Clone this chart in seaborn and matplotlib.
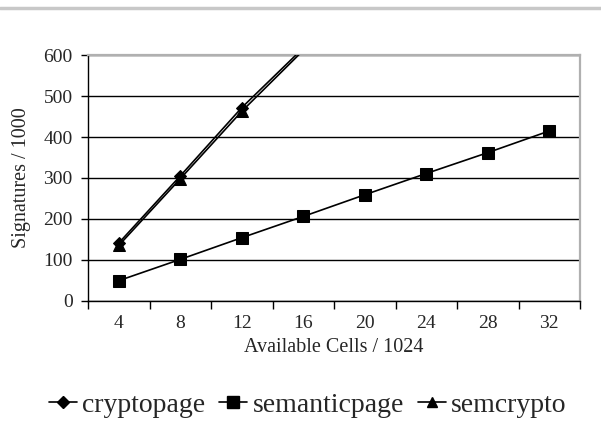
import numpy as np
import pandas as pd
import matplotlib
matplotlib.use('Agg')
import matplotlib.pyplot as plt
import seaborn as sns
from matplotlib.lines import Line2D

# Data
cells = [4, 8, 12, 16, 20, 24, 28, 32]
cryptopage_x = [4, 8, 12, 16]
cryptopage = [141, 305, 472, 618]
semanticpage = [49, 101, 154, 206, 259, 311, 362, 415]
semcrypto_x = [4, 8, 12, 16]
semcrypto = [135, 298, 463, 612]
y_ticks = [0, 100, 200, 300, 400, 500, 600]
Y_MAX = 600

df = pd.concat([
    pd.DataFrame({'cells': cryptopage_x, 'sig': cryptopage, 'series': 'cryptopage'}),
    pd.DataFrame({'cells': cells, 'sig': semanticpage, 'series': 'semanticpage'}),
    pd.DataFrame({'cells': semcrypto_x, 'sig': semcrypto, 'series': 'semcrypto'}),
], ignore_index=True)

sns.set_style('white')
plt.rcParams['font.family'] = ['Liberation Serif', 'DejaVu Serif']

fig = plt.figure(figsize=(6.01, 4.34), dpi=100)
ax = fig.add_axes([88 / 601, 1 - 300.7 / 434, (580 - 88) / 601, (300.7 - 55.3) / 434])

names = ['cryptopage', 'semanticpage', 'semcrypto']
markers = {'cryptopage': 'D', 'semanticpage': 's', 'semcrypto': '^'}
sizes = {'cryptopage': 6.5, 'semanticpage': 8.5, 'semcrypto': 8}
for name in names:
    sub = df[df['series'] == name].reset_index(drop=True)
    # like Excel: no markers for points beyond the axis maximum
    visible = [i for i, v in enumerate(sub['sig']) if v <= Y_MAX]
    sns.lineplot(data=sub, x='cells', y='sig', ax=ax, color='black', lw=1.2,
                 marker=markers[name], markersize=sizes[name], markeredgecolor='black',
                 markevery=visible, legend=False, zorder=3)

ax.set_xlim(2, 34)
ax.set_ylim(0, Y_MAX)

# gridlines
ax.set_yticks(y_ticks)
ax.yaxis.grid(True, color='black', lw=1.0)
ax.set_axisbelow(True)

# category boundaries as major ticks, labels at centers
ax.set_xticks(np.arange(2, 35, 4))
ax.set_xticklabels([])
ax.set_xticks(cells, minor=True)
ax.set_xticklabels([str(c) for c in cells], minor=True)
ax.tick_params(axis='x', which='major', length=6, width=1, color='black', direction='out', bottom=True)
ax.tick_params(axis='x', which='minor', length=0, pad=10, labelsize=14)
ax.tick_params(axis='y', length=5, width=1, color='black', direction='out', left=True,
               labelsize=14, pad=6)

for s in ['left', 'bottom']:
    ax.spines[s].set_color('black')
    ax.spines[s].set_linewidth(1)
for s in ['top', 'right']:
    ax.spines[s].set_color('#b0b0b0')
    ax.spines[s].set_linewidth(1.6)

ax.set_xlabel('Available Cells / 1024', fontsize=14.5)
ax.set_ylabel('Signatures / 1000', fontsize=14.5)
ax.xaxis.label.set_va('center')
ax.yaxis.label.set_va('center')
ax.xaxis.set_label_coords(0.5, (300.7 - 348) / 245.4)
ax.yaxis.set_label_coords((22 - 88) / 492, 0.5)

handles = [Line2D([], [], color='black', lw=1.2, marker=markers[n], markersize=sizes[n] * 0.95)
           for n in names]
fig.legend(handles, names, loc='center',
           bbox_to_anchor=(0.512, 1 - 405 / 434), ncol=3, frameon=False, fontsize=20,
           handlelength=1.0, handletextpad=0.2, columnspacing=0.5)

# light gray frame line at the top
fig.add_artist(Line2D([0, 1], [1 - 8 / 434, 1 - 8 / 434], color='#c8c8c8', lw=2.5,
                      transform=fig.transFigure))

fig.savefig('out.png', dpi=100)
